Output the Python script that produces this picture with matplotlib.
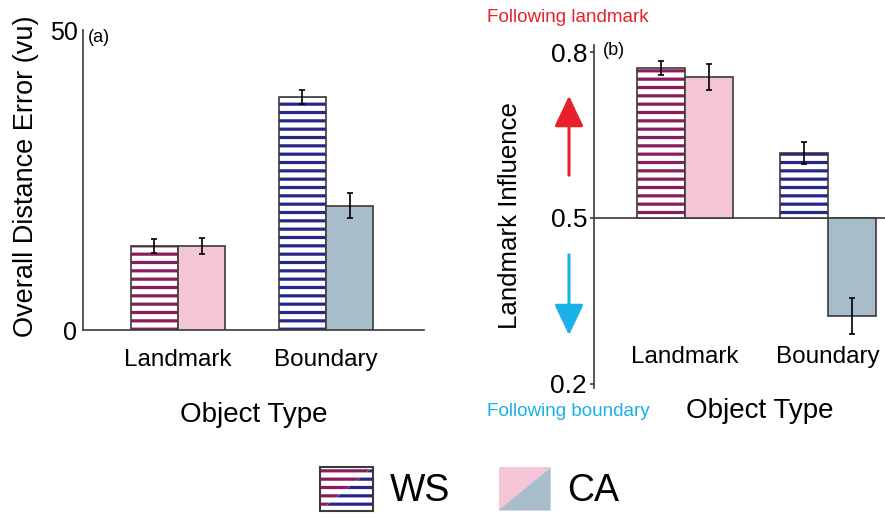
import numpy as np
import matplotlib
matplotlib.use("Agg")
import matplotlib.pyplot as plt
from matplotlib.patches import Polygon, Rectangle, FancyArrowPatch

plt.rcParams['font.family'] = 'Liberation Sans'
plt.rcParams['hatch.linewidth'] = 2.3

# data
categories = ['Landmark', 'Boundary']
dist_ws = [14.0, 38.8]
dist_ws_err = [1.2, 1.2]
dist_ca = [14.0, 20.7]
dist_ca_err = [1.3, 2.1]
infl_ws = [0.771, 0.618]
infl_ws_err = [0.013, 0.020]
infl_ca = [0.755, 0.323]
infl_ca_err = [0.023, 0.033]

# colours
ws_cols = ['#8c1d5c', '#25278a']   # stripe colour per object type
ca_cols = ['#f4c5d7', '#a8bdca']
edge = '#3a3a3a'
red = '#e8202a'
cyan = '#1ab0e8'

fig = plt.figure(figsize=(8.85, 5.15), dpi=100)
W, H = 885, 515


def px_axes(l, t, r, b):
    return fig.add_axes([l / W, 1 - b / H, (r - l) / W, (b - t) / H])


def striped_bars(ax, x, heights, width, bottom=0):
    ax.bar(x, heights, width, bottom=bottom, color='white', hatch='--',
           edgecolor=ws_cols, linewidth=0, zorder=2)
    ax.bar(x, heights, width, bottom=bottom, fill=False,
           edgecolor=edge, linewidth=1.2, zorder=3)


x = np.arange(len(categories))

# ---- (a) overall distance error
ax1 = px_axes(83, 30, 424, 330)
bw = 0.318
striped_bars(ax1, x - bw / 2, dist_ws, bw)
ax1.bar(x + bw / 2, dist_ca, bw, color=ca_cols, edgecolor=edge, linewidth=1.2, zorder=3)
ax1.errorbar(x - bw / 2, dist_ws, yerr=dist_ws_err, fmt='none', ecolor='black',
             elinewidth=1.2, capsize=2.5, capthick=1.2, zorder=4)
ax1.errorbar(x + bw / 2, dist_ca, yerr=dist_ca_err, fmt='none', ecolor='black',
             elinewidth=1.2, capsize=2.5, capthick=1.2, zorder=4)
ax1.set_xlim(-0.642, 1.662)
ax1.set_ylim(0, 50)
ax1.set_yticks([0, 50])
ax1.set_xticks(x, categories)
ax1.tick_params(axis='y', length=0, labelsize=18, pad=4)
ax1.tick_params(axis='x', length=0, labelsize=17.5, pad=14)
for s in ['top', 'right']:
    ax1.spines[s].set_visible(False)
for s in ['left', 'bottom']:
    ax1.spines[s].set_color(edge)
    ax1.spines[s].set_linewidth(1.2)
ax1.set_xlabel('Object Type', fontsize=20, labelpad=22)
ax1.set_ylabel('Overall Distance Error (vu)', fontsize=19.5)
ax1.yaxis.set_label_coords(-0.128, 0.512)
ax1.text(0.015, 0.975, '(a)', transform=ax1.transAxes, fontsize=13, va='center')

# ---- (b) landmark influence
ax2 = px_axes(594, 45, 885, 388)
bw2 = 0.336
striped_bars(ax2, x - bw2 / 2, np.array(infl_ws) - 0.5, bw2, bottom=0.5)
ax2.bar(x + bw2 / 2, np.array(infl_ca) - 0.5, bw2, bottom=0.5, color=ca_cols,
        edgecolor=edge, linewidth=1.2, zorder=3)
ax2.errorbar(x - bw2 / 2, infl_ws, yerr=infl_ws_err, fmt='none', ecolor='black',
             elinewidth=1.2, capsize=2, capthick=1.2, zorder=4)
ax2.errorbar(x + bw2 / 2, infl_ca, yerr=infl_ca_err, fmt='none', ecolor='black',
             elinewidth=1.2, capsize=2, capthick=1.2, zorder=4)
ax2.axhline(0.5, color=edge, linewidth=1.2, zorder=1)
ax2.set_xlim(-0.636, 1.399)
ax2.set_ylim(0.1926, 0.8128)
ax2.set_yticks([0.2, 0.5, 0.8], ['0.2', '0.5', '0.8'])
ax2.set_xticks(x, categories)
ax2.tick_params(axis='y', length=3, width=1.2, color=edge, labelsize=19, pad=2)
ax2.tick_params(axis='x', length=0, labelsize=17.5, pad=-30)
for s in ['top', 'right', 'bottom']:
    ax2.spines[s].set_visible(False)
ax2.spines['left'].set_color(edge)
ax2.spines['left'].set_linewidth(1.2)
ax2.set_xlabel('Object Type', fontsize=20)
ax2.xaxis.set_label_coords(0.57, -0.03)
ax2.set_ylabel('Landmark Influence', fontsize=18.6)
ax2.yaxis.set_label_coords(-0.247, 0.503)
ax2.text(0.03, 0.985, '(b)', transform=ax2.transAxes, fontsize=13, va='center')

# direction hints
fig.text(568 / W, 1 - 18 / H, 'Following landmark', color=red, fontsize=13.6,
         ha='center', va='center')
fig.text(568 / W, 1 - 412 / H, 'Following boundary', color=cyan, fontsize=13.6,
         ha='center', va='center')
for y0, y1, c in [(178, 93, red), (252, 338, cyan)]:
    fig.add_artist(FancyArrowPatch((569 / W, 1 - y0 / H), (569 / W, 1 - y1 / H),
                                   transform=fig.transFigure, color=c, lw=2.2,
                                   arrowstyle='-|>,head_length=0.95,head_width=0.45',
                                   mutation_scale=20))


# legend with diagonally split swatches
class SplitHandler:
    def __init__(self, c_up, c_down, striped):
        self.c_up, self.c_down, self.striped = c_up, c_down, striped

    def legend_artist(self, legend, orig_handle, fontsize, handlebox):
        x0, y0 = -handlebox.xdescent, -handlebox.ydescent
        w, h = handlebox.width, handlebox.height
        up = [[x0, y0], [x0, y0 + h], [x0 + w, y0 + h]]
        down = [[x0, y0], [x0 + w, y0 + h], [x0 + w, y0]]
        tr = handlebox.get_transform()
        arts = []
        for pts, c in [(up, self.c_up), (down, self.c_down)]:
            if self.striped:
                p = Polygon(pts, facecolor='white', edgecolor=c, hatch='--',
                            linewidth=0, transform=tr)
            else:
                p = Polygon(pts, facecolor=c, edgecolor='none', linewidth=0, transform=tr)
            handlebox.add_artist(p)
            arts.append(p)
        if self.striped:
            r = Rectangle((x0, y0), w, h, fill=False, edgecolor=edge, linewidth=1.5,
                          transform=tr)
            handlebox.add_artist(r)
        return arts[0]


h_ws = Rectangle((0, 0), 1, 1)
h_ca = Rectangle((0, 0), 1, 1)
fig.legend([h_ws, h_ca], ['WS', 'CA'],
           handler_map={h_ws: SplitHandler(ws_cols[0], ws_cols[1], True),
                        h_ca: SplitHandler(ca_cols[0], ca_cols[1], False)},
           loc='center', bbox_to_anchor=(470 / W, 1 - 489 / H), ncol=2,
           frameon=False, fontsize=27, handlelength=1.39, handleheight=1.39,
           handletextpad=0.45, columnspacing=1.3, borderpad=0)

fig.savefig('out.png', dpi=100)
